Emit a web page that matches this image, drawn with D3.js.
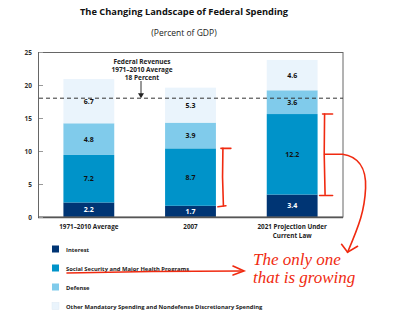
<!DOCTYPE html>
<html><head><meta charset="utf-8">
<script src="https://cdn.jsdelivr.net/npm/d3@7"></script>
<style>
html,body{margin:0;padding:0;background:#fff;}
svg{display:block;}
</style></head>
<body>
<script>
const categories = ["1971–2010 Average", "2007", "2021 Projection Under Current Law"];
const categoryLines = [["1971–2010 Average"], ["2007"], ["2021 Projection Under", "Current Law"]];
const seriesNames = ["Interest", "Social Security and Major Health Programs", "Defense", "Other Mandatory Spending and Nondefense Discretionary Spending"];
const interest = [2.2, 1.7, 3.4];
const socialSecurity = [7.2, 8.7, 12.2];
const defense = [4.8, 3.9, 3.6];
const other = [6.7, 5.3, 4.6];
const yTicks = [0, 5, 10, 15, 20, 25];
const revenueAvg = 18;
const colors = ["#003574", "#0093c9", "#80cbeb", "#eaf4fc"];

const W = 400, H = 321;
const svg = d3.select("body").append("svg").attr("width", W).attr("height", H);
const font = "'Open Sans', 'DejaVu Sans', sans-serif";

const x = d3.scaleBand().domain(categories).range([38, 343]).paddingInner(0.5).paddingOuter(0.25);
const y = d3.scaleLinear().domain([0, 25]).range([217, 52]);

// Title
svg.append("text").attr("x", 184).attr("y", 15).attr("text-anchor", "middle")
  .attr("font-family", font).attr("font-weight", 700).attr("font-size", 9.3).attr("fill", "#111")
  .text("The Changing Landscape of Federal Spending");
svg.append("text").attr("x", 184).attr("y", 36).attr("text-anchor", "middle")
  .attr("font-family", font).attr("font-size", 8.5).attr("fill", "#222")
  .text("(Percent of GDP)");

// stacked data
const rows = categories.map((c, i) => ({cat: c, v: [interest[i], socialSecurity[i], defense[i], other[i]]}));
rows.forEach(r => { let acc = 0; r.seg = r.v.map(v => { const s = {y0: acc, y1: acc + v, v}; acc += v; return s; }); });

const bars = svg.append("g");
rows.forEach(r => {
  r.seg.forEach((s, k) => {
    bars.append("rect").attr("x", x(r.cat)).attr("width", x.bandwidth())
      .attr("y", y(s.y1)).attr("height", y(s.y0) - y(s.y1)).attr("fill", colors[k]);
    bars.append("text").attr("x", x(r.cat) + x.bandwidth() / 2).attr("y", (y(s.y0) + y(s.y1)) / 2 + 2.5)
      .attr("text-anchor", "middle").attr("font-family", font).attr("font-weight", 700).attr("font-size", 7)
      .attr("fill", k === 0 ? "#fff" : "#111").text(s.v.toFixed(1));
  });
});

// frame
svg.append("rect").attr("x", 38.5).attr("y", 52.5).attr("width", 304.5).attr("height", 164.5)
  .attr("fill", "none").attr("stroke", "#666").attr("stroke-width", 1);
svg.append("line").attr("x1", 38).attr("x2", 343).attr("y1", 217.5).attr("y2", 217.5).attr("stroke", "#555").attr("stroke-width", 1.5);

// y axis ticks
const yg = svg.append("g");
yTicks.forEach(t => {
  yg.append("line").attr("x1", 39).attr("x2", 43).attr("y1", y(t) + 0.5).attr("y2", y(t) + 0.5).attr("stroke", "#999");
  yg.append("text").attr("x", 32).attr("y", y(t) + 2.5).attr("text-anchor", "end")
    .attr("font-family", font).attr("font-weight", 700).attr("font-size", 6.5).attr("fill", "#333").text(t);
});

// revenue line
svg.append("line").attr("x1", 39).attr("x2", 343).attr("y1", y(revenueAvg)).attr("y2", y(revenueAvg))
  .attr("stroke", "#333").attr("stroke-width", 1).attr("stroke-dasharray", "4,3");
const ax = 141;
["Federal Revenues", "1971–2010 Average", "18 Percent"].forEach((t, i) => {
  svg.append("text").attr("x", ax + 1).attr("y", 63.5 + i * 8).attr("text-anchor", "middle")
    .attr("font-family", font).attr("font-weight", 700).attr("font-size", 6.5).attr("fill", "#222").text(t);
});
svg.append("line").attr("x1", ax).attr("x2", ax).attr("y1", 81).attr("y2", y(revenueAvg) - 4).attr("stroke", "#333");
svg.append("path").attr("d", `M${ax - 3},${y(revenueAvg) - 5}L${ax + 3},${y(revenueAvg) - 5}L${ax},${y(revenueAvg)}Z`).attr("fill", "#222");

// category labels
categories.forEach((c, i) => {
  categoryLines[i].forEach((l, j) => {
    svg.append("text").attr("x", x(c) + x.bandwidth() / 2).attr("y", 229 + j * 9).attr("text-anchor", "middle")
      .attr("font-family", font).attr("font-weight", 700).attr("font-size", 6.3).attr("fill", "#222").text(l);
  });
});

// legend
seriesNames.forEach((n, i) => {
  const ly = 249 + i * 19;
  svg.append("rect").attr("x", 52).attr("y", ly - 3.5).attr("width", 7).attr("height", 7).attr("fill", colors[i])
    .attr("stroke", i === 3 ? "#dde9f4" : "none").attr("stroke-width", 0.5);
  svg.append("text").attr("x", 66).attr("y", ly + 2.5).attr("font-family", font).attr("font-weight", 700)
    .attr("font-size", 5.8).attr("fill", "#222").text(n);
});

// red hand-drawn annotations
const red = "#f02a10";
const ann = svg.append("g").attr("fill", "none").attr("stroke", red).attr("stroke-width", 1.6).attr("stroke-linecap", "round");
function bracket(i) {
  const bx = x(categories[i]) + x.bandwidth() + 7;
  const yb = y(interest[i]), yt = y(interest[i] + socialSecurity[i]);
  ann.append("path").attr("d", `M${bx - 2},${yt}L${bx + 8},${yt}`);
  ann.append("path").attr("d", `M${bx},${yt}Q${bx - 1},${(yt + yb) / 2} ${bx + 0.5},${yb}`);
  return {bx, yt, yb};
}
const b2 = bracket(1);
ann.append("path").attr("d", `M${b2.bx - 5},${b2.yb + 1}L${b2.bx + 3},${b2.yb}`);
const b3 = bracket(2);
ann.append("path").attr("d", `M${b3.bx - 5},${b3.yb + 1}L${b3.bx + 8},${b3.yb + 1}`);
const my = (b3.yt + b3.yb) / 2;
ann.append("path").attr("d", `M${b3.bx},${my}L${b3.bx + 18},${my} C${b3.bx + 32},${my + 2} ${b3.bx + 42},${my + 12} ${b3.bx + 41},${my + 34} S${b3.bx + 35},${my + 70} ${b3.bx + 23},${my + 98}`);
ann.append("path").attr("d", `M${b3.bx + 17},${my + 90}L${b3.bx + 23},${my + 98}L${b3.bx + 33},${my + 92}`);

// legend arrow
ann.append("path").attr("d", "M67,273 Q150,271 241,271");
ann.append("path").attr("d", "M233,266 L244,271 L233,275");

const tf = "'Liberation Serif', 'DejaVu Serif', serif";
svg.append("text").attr("x", 253).attr("y", 265).attr("font-family", tf).attr("font-style", "italic")
  .attr("font-size", 17).attr("fill", red).text("The only one");
svg.append("text").attr("x", 253).attr("y", 283).attr("font-family", tf).attr("font-style", "italic")
  .attr("font-size", 17).attr("fill", red).text("that is growing");
</script>
</body></html>
